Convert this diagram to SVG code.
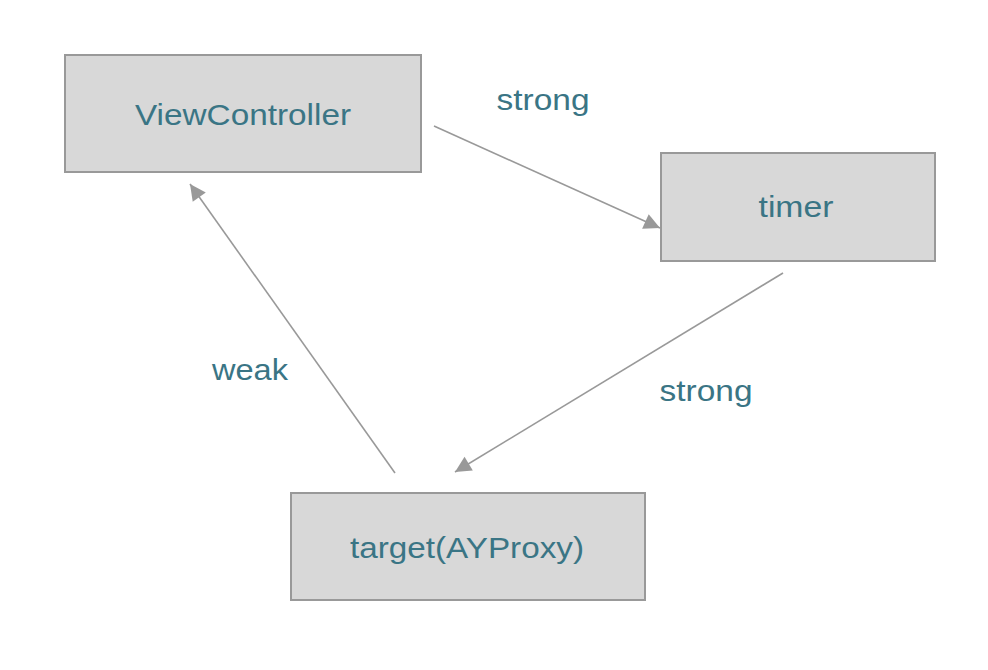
<svg xmlns="http://www.w3.org/2000/svg" width="988" height="670" viewBox="0 0 988 670">
<style>
.box{fill:#d8d8d8;stroke:#999;stroke-width:2}
.t{font-family:"Liberation Sans",Arial,sans-serif;font-size:29px;fill:#3a7585;text-anchor:middle}
.c{stroke:#999;stroke-width:1.6;fill:none;marker-end:url(#ah)}
</style>
<defs>
<marker id="ah" viewBox="0 0 10 10" refX="10" refY="5" markerWidth="10" markerHeight="10" markerUnits="userSpaceOnUse" orient="auto" overflow="visible">
<path d="M-6,-3 L10,5 L-6,13 z" fill="#999"/>
</marker>
</defs>
<rect width="988" height="670" fill="#fff"/>
<g id="viewcontroller"><rect class="box" x="65" y="55" width="356" height="117"/><text class="t" x="243" y="125" textLength="216" lengthAdjust="spacingAndGlyphs">ViewController</text></g>
<g id="timer"><rect class="box" x="661" y="153" width="274" height="108"/><text class="t" x="796" y="217" textLength="75" lengthAdjust="spacingAndGlyphs">timer</text></g>
<g id="target"><rect class="box" x="291" y="493" width="354" height="107"/><text class="t" x="467" y="558" textLength="234" lengthAdjust="spacingAndGlyphs">target(AYProxy)</text></g>
<g id="connectors">
<line class="c" x1="434" y1="126" x2="660" y2="228"/>
<line class="c" x1="783" y1="273" x2="455" y2="472"/>
<line class="c" x1="395" y1="473" x2="190" y2="184"/>
<text class="t" x="543" y="110" textLength="93" lengthAdjust="spacingAndGlyphs">strong</text>
<text class="t" x="706" y="401" textLength="93" lengthAdjust="spacingAndGlyphs">strong</text>
<text class="t" x="250" y="380" textLength="76" lengthAdjust="spacingAndGlyphs">weak</text>
</g>
</svg>
